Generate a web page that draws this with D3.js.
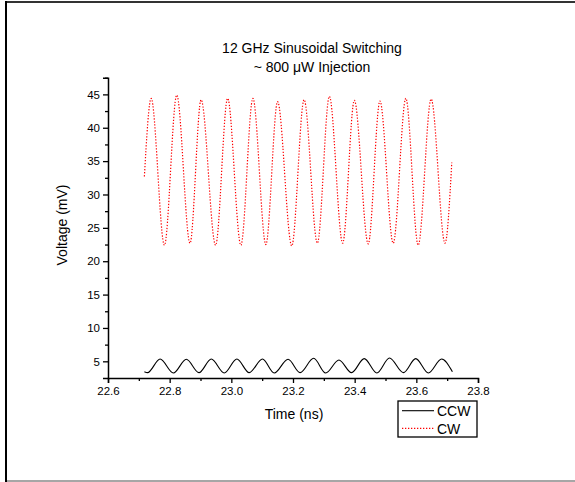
<!DOCTYPE html>
<html>
<head>
<meta charset="utf-8">
<script src="https://cdn.jsdelivr.net/npm/d3@7"></script>
<style>
  html, body { margin: 0; padding: 0; background: #fff; }
  svg text { font-family: Arial, "Liberation Sans", sans-serif; fill: #000; }
</style>
</head>
<body>
<svg id="chart" width="575" height="482"></svg>
<script>
// Turning points of the CW trace (time in ns, voltage in mV)
const cwTime = [22.718, 22.740, 22.783, 22.823, 22.866, 22.902, 22.949, 22.988, 23.031,
  23.070, 23.112, 23.150, 23.196, 23.236, 23.279, 23.318, 23.361, 23.399, 23.444,
  23.482, 23.525, 23.566, 23.606, 23.648, 23.693, 23.715];
const cwVolt = [32.7, 44.4, 22.4, 44.9, 22.7, 44.2, 22.4, 44.4, 22.4,
  44.4, 22.5, 43.9, 22.3, 44.2, 22.7, 44.7, 22.7, 44.1, 22.6,
  44.0, 22.7, 44.4, 22.4, 44.3, 22.7, 34.8];

// Turning points of the CCW trace
const ccwTime = [22.718, 22.728, 22.769, 22.812, 22.854, 22.895, 22.935, 22.977, 23.018,
  23.058, 23.101, 23.139, 23.184, 23.223, 23.267, 23.306, 23.349, 23.390, 23.431,
  23.472, 23.513, 23.558, 23.598, 23.639, 23.682, 23.717];
const ccwVolt = [3.45, 3.3, 5.34, 3.25, 5.3, 3.3, 5.34, 3.25, 5.34,
  3.3, 5.34, 3.25, 5.3, 3.3, 5.45, 3.25, 5.2, 3.3, 5.4,
  3.25, 5.5, 3.3, 5.4, 3.25, 5.34, 3.45];

const xTicks = [22.6, 22.8, 23.0, 23.2, 23.4, 23.6, 23.8];
const xMinor = [22.7, 22.9, 23.1, 23.3, 23.5, 23.7];
const yTicks = [5, 10, 15, 20, 25, 30, 35, 40, 45];
const yMinor = [7.5, 12.5, 17.5, 22.5, 27.5, 32.5, 37.5, 42.5, 47.5];

const titleLines = ["12 GHz Sinusoidal Switching", "~ 800 \u03BCW Injection"];
const seriesNames = ["CCW", "CW"];

const svg = d3.select("#chart");

// page frame
svg.append("line").attr("x1", 6).attr("y1", 2).attr("x2", 575).attr("y2", 2)
  .attr("stroke", "#333").attr("stroke-width", 2);
svg.append("line").attr("x1", 6).attr("y1", 481).attr("x2", 575).attr("y2", 481)
  .attr("stroke", "#888").attr("stroke-width", 1.5);
svg.append("line").attr("x1", 6).attr("y1", 1).attr("x2", 6).attr("y2", 482)
  .attr("stroke", "#000").attr("stroke-width", 2);

const x = d3.scaleLinear().domain([22.6, 23.8]).range([108, 478]);
const y = d3.scaleLinear().domain([2.5, 47.5]).range([378, 77.7]);

// axes
const gx = svg.append("g").attr("transform", `translate(0,${y(2.5)})`)
  .call(d3.axisBottom(x).tickValues(xTicks).tickFormat(d3.format(".1f")).tickSizeOuter(0).tickSize(5).tickPadding(4));
svg.append("g").attr("transform", `translate(0,${y(2.5)})`)
  .call(d3.axisBottom(x).tickValues(xMinor).tickFormat("").tickSizeOuter(0).tickSize(3))
  .select(".domain").remove();
const gy = svg.append("g").attr("transform", `translate(${x(22.6)},0)`)
  .call(d3.axisLeft(y).tickValues(yTicks).tickFormat(d3.format("d")).tickSizeOuter(0).tickSize(5).tickPadding(3));
svg.append("g").attr("transform", `translate(${x(22.6)},0)`)
  .call(d3.axisLeft(y).tickValues(yMinor).tickFormat("").tickSizeOuter(0).tickSize(3))
  .select(".domain").remove();

svg.selectAll(".domain").attr("stroke", "#000").attr("stroke-width", 1.5);
svg.selectAll(".tick line").attr("stroke", "#000").attr("stroke-width", 1.3);
svg.selectAll(".tick text").attr("font-size", "11.5px")
  .attr("font-family", "Arial, 'Liberation Sans', sans-serif").attr("fill", "#000");

// axis titles
svg.append("text").attr("x", 294).attr("y", 419).attr("text-anchor", "middle")
  .attr("font-size", "14px").text("Time (ns)");
svg.append("text").attr("transform", "translate(67,225) rotate(-90)")
  .attr("text-anchor", "middle").attr("font-size", "14px").text("Voltage (mV)");

// chart title
svg.selectAll("text.title").data(titleLines).enter().append("text")
  .attr("class", "title").attr("x", 312).attr("y", (d, i) => 53 + i * 18.5)
  .attr("text-anchor", "middle").attr("font-size", "14px").text(d => d);

// traces
const line = d3.line().x(d => x(d[0])).y(d => y(d[1])).curve(d3.curveMonotoneX);
const ccw = ccwTime.map((t, i) => [t, ccwVolt[i]]);
const cw = cwTime.map((t, i) => [t, cwVolt[i]]);

svg.append("path").datum(ccw).attr("d", line)
  .attr("fill", "none").attr("stroke", "#000").attr("stroke-width", 1.1);
svg.append("path").datum(cw).attr("d", line)
  .attr("fill", "none").attr("stroke", "#ff0000").attr("stroke-width", 1.2)
  .attr("stroke-dasharray", "1.3,1.7");

// legend
const lg = svg.append("g");
lg.append("rect").attr("x", 398).attr("y", 401).attr("width", 79).attr("height", 36)
  .attr("fill", "#fff").attr("stroke", "#000").attr("stroke-width", 1.3);
const styles = [
  { stroke: "#000", dash: null, w: 1.1 },
  { stroke: "#ff0000", dash: "1.3,1.7", w: 1.2 }
];
seriesNames.forEach((name, i) => {
  const yy = 410.7 + i * 17.6;
  lg.append("line").attr("x1", 402).attr("x2", 434).attr("y1", yy).attr("y2", yy)
    .attr("stroke", styles[i].stroke).attr("stroke-width", styles[i].w)
    .attr("stroke-dasharray", styles[i].dash);
  lg.append("text").attr("x", 437).attr("y", yy + 5.3).attr("font-size", "14px").text(name);
});
</script>
</body>
</html>
